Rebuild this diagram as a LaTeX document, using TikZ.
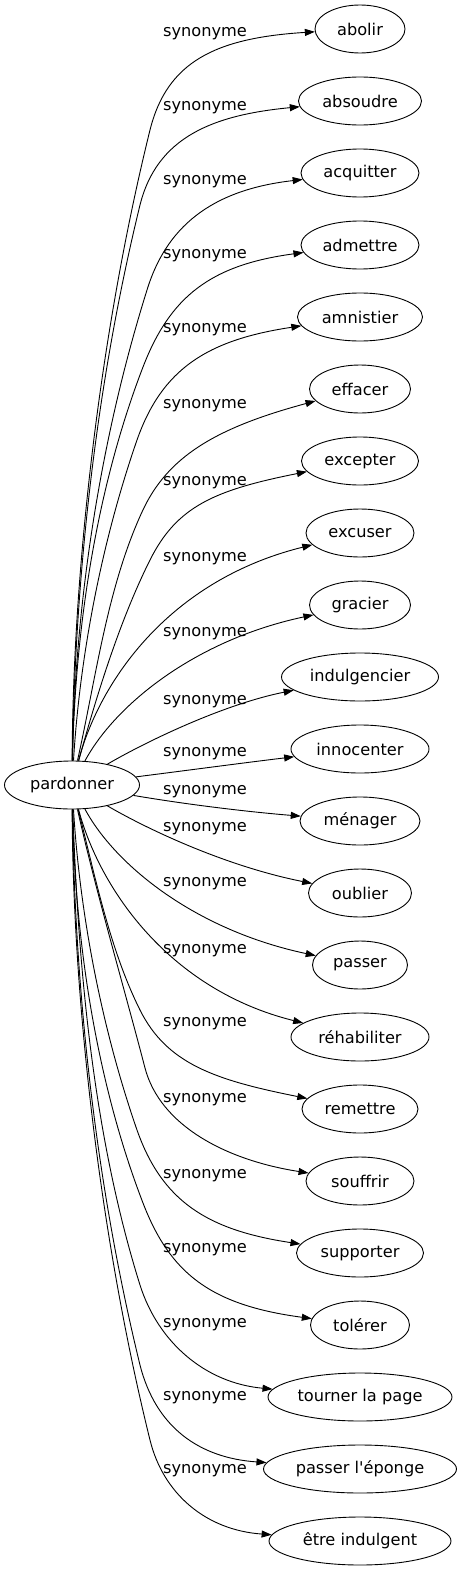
\documentclass[tikz,border=0pt]{standalone}
\usepackage{fontspec}
\newfontfamily\dvs{DejaVu Sans}
\usetikzlibrary{shapes.geometric,arrows.meta}
\tikzset{
  word/.style={draw, ellipse, line width=0.9pt, inner sep=0pt, minimum height=48pt, font={\dvs\fontsize{16.2}{19}\selectfont}},
  rel/.style={inner sep=0pt, font={\dvs\fontsize{16.2}{19}\selectfont}},
  syn/.style={line width=0.9pt, -{Triangle[length=10pt,width=7pt]}}
}
\begin{document}
\begin{tikzpicture}[x=1pt,y=-1pt]
\fill[white] (0,0) rectangle (461,1571);
\useasboundingbox (0,0) rectangle (461,1571);
% nodes
\node[word, minimum width=135pt] (p) at (72,785) {pardonner};
\node[word, minimum width=90pt]  (t1)  at (360,29)   {abolir};
\node[word, minimum width=123pt] (t2)  at (360,101)  {absoudre};
\node[word, minimum width=118pt] (t3)  at (360,173)  {acquitter};
\node[word, minimum width=118pt] (t4)  at (360,245)  {admettre};
\node[word, minimum width=125pt] (t5)  at (360,317)  {amnistier};
\node[word, minimum width=101pt] (t6)  at (360,389)  {effacer};
\node[word, minimum width=117pt] (t7)  at (360,461)  {excepter};
\node[word, minimum width=108pt] (t8)  at (360,533)  {excuser};
\node[word, minimum width=101pt] (t9)  at (360,605)  {gracier};
\node[word, minimum width=157pt] (t10) at (360,677)  {indulgencier};
\node[word, minimum width=138pt] (t11) at (360,749)  {innocenter};
\node[word, minimum width=120pt] (t12) at (360,821)  {ménager};
\node[word, minimum width=103pt] (t13) at (360,893)  {oublier};
\node[word, minimum width=95pt]  (t14) at (360,965)  {passer};
\node[word, minimum width=138pt] (t15) at (360,1037) {réhabiliter};
\node[word, minimum width=116pt] (t16) at (360,1109) {remettre};
\node[word, minimum width=108pt] (t17) at (360,1181) {souffrir};
\node[word, minimum width=127pt] (t18) at (360,1253) {supporter};
\node[word, minimum width=99pt]  (t19) at (360,1325) {tolérer};
\node[word, minimum width=184pt] (t20) at (360,1397) {tourner la page};
\node[word, minimum width=193pt] (t21) at (360,1469) {passer l'éponge};
\node[word, minimum width=182pt] (t22) at (360,1541) {être indulgent};
% labels
\node[rel] (l1)  at (205,34)   {synonyme};
\node[rel] (l2)  at (205,108)  {synonyme};
\node[rel] (l3)  at (205,182)  {synonyme};
\node[rel] (l4)  at (205,256)  {synonyme};
\node[rel] (l5)  at (205,330)  {synonyme};
\node[rel] (l6)  at (205,406)  {synonyme};
\node[rel] (l7)  at (205,483)  {synonyme};
\node[rel] (l8)  at (205,559)  {synonyme};
\node[rel] (l9)  at (205,634)  {synonyme};
\node[rel] (l10) at (205,702)  {synonyme};
\node[rel] (l11) at (205,754)  {synonyme};
\node[rel] (l12) at (205,792)  {synonyme};
\node[rel] (l13) at (205,829)  {synonyme};
\node[rel] (l14) at (205,884)  {synonyme};
\node[rel] (l15) at (205,951)  {synonyme};
\node[rel] (l16) at (205,1024) {synonyme};
\node[rel] (l17) at (205,1100) {synonyme};
\node[rel] (l18) at (205,1176) {synonyme};
\node[rel] (l19) at (205,1250) {synonyme};
\node[rel] (l20) at (205,1325) {synonyme};
\node[rel] (l21) at (205,1398) {synonyme};
\node[rel] (l22) at (205,1471) {synonyme};
% edges (upper)
\draw[syn] (p) .. controls (73,561) and (102,324) .. (150,130) .. controls (167,62) and (215,38) .. (t1);
\draw[syn] (p) .. controls (75,576) and (96,385) .. (140,205) .. controls (157,137) and (213,115) .. (t2);
\draw[syn] (p) .. controls (75,604) and (100,440) .. (147,290) .. controls (166,228) and (210,190) .. (t3);
\draw[syn] (p) .. controls (75,630) and (96,489) .. (143,367) .. controls (170,297) and (210,265) .. (t4);
\draw[syn] (p) .. controls (80,654) and (102,541) .. (137,440) .. controls (162,369) and (207,340) .. (t5);
\draw[syn] (p) .. controls (96,678) and (107,588) .. (142,512) .. controls (167,457) and (215,428) .. (t6);
\draw[syn] (p) .. controls (97,694) and (120,620) .. (150,560) .. controls (177,506) and (215,490) .. (t7);
\draw[syn] (p) .. controls (100,680) and (170,580) .. (t8);
\draw[syn] (p) .. controls (115,705) and (195,640) .. (t9);
\draw[syn] (p) .. controls (140,745) and (220,705) .. (t10);
\draw[syn] (p) .. controls (190,770) and (250,762) .. (t11);
% edges (lower)
\draw[syn] (p) .. controls (190,805) and (250,812) .. (t12);
\draw[syn] (p) .. controls (140,825) and (220,865) .. (t13);
\draw[syn] (p) .. controls (115,865) and (195,930) .. (t14);
\draw[syn] (p) .. controls (100,890) and (170,990) .. (t15);
\draw[syn] (p) .. controls (95,876) and (110,950) .. (140,1010) .. controls (167,1064) and (215,1080) .. (t16);
\draw[syn] (p) .. controls (96,892) and (125,991) .. (145,1068) .. controls (160,1125) and (225,1160) .. (t17);
\draw[syn] (p) .. controls (80,916) and (102,1029) .. (137,1130) .. controls (162,1201) and (207,1230) .. (t18);
\draw[syn] (p) .. controls (75,940) and (96,1081) .. (143,1203) .. controls (170,1273) and (210,1305) .. (t19);
\draw[syn] (p) .. controls (78,966) and (93,1135) .. (140,1285) .. controls (158,1342) and (205,1383) .. (t20);
\draw[syn] (p) .. controls (75,994) and (96,1185) .. (140,1365) .. controls (156,1428) and (200,1458) .. (t21);
\draw[syn] (p) .. controls (73,1009) and (102,1246) .. (150,1440) .. controls (163,1493) and (205,1530) .. (t22);
\end{tikzpicture}
\end{document}
